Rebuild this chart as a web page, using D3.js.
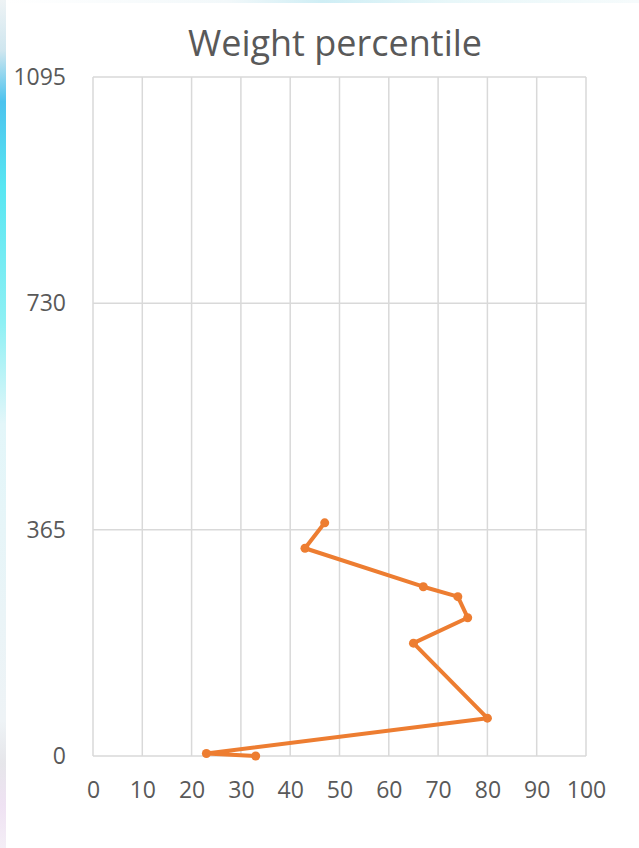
<!DOCTYPE html>
<html>
<head>
<meta charset="utf-8">
<script src="https://cdn.jsdelivr.net/npm/d3@7"></script>
<style>
  body { margin: 0; background: #fff; }
  svg { display: block; }
</style>
</head>
<body>
<svg id="chart" width="639" height="848"></svg>
<script>
// Data: age in days vs weight percentile
const percentile = [33, 23, 80, 65, 76, 74, 67, 43, 47];
const days = [0, 4, 61, 182, 223, 257, 273, 335, 376];
const xTicks = [0, 10, 20, 30, 40, 50, 60, 70, 80, 90, 100];
const yTicks = [0, 365, 730, 1095];

const margin = { top: 77, right: 53, bottom: 92, left: 93 },
    width = 639 - margin.left - margin.right,
    height = 848 - margin.top - margin.bottom;

const svg = d3.select("#chart");

// decorative edge strip on the left, like the slide background
const defs = svg.append("defs");
const grad = defs.append("linearGradient")
    .attr("id", "edge").attr("x1", 0).attr("y1", 0).attr("x2", 0).attr("y2", 1);
[[0, "#eef3f5"], [0.06, "#cfe6ef"], [0.12, "#4cc3ee"], [0.22, "#58e6f2"],
 [0.38, "#8ef0f4"], [0.5, "#e3f6f9"], [0.85, "#eef3f6"], [0.9, "#e6e6ea"], [0.95, "#efe2f3"], [1, "#f4eef6"]]
    .forEach(([o, c]) => grad.append("stop").attr("offset", o).attr("stop-color", c));
svg.append("rect").attr("x", 0).attr("y", 0).attr("width", 6).attr("height", 848)
    .attr("fill", "url(#edge)");

const topGrad = defs.append("linearGradient")
    .attr("id", "topedge").attr("x1", 0).attr("y1", 0).attr("x2", 1).attr("y2", 0);
[[0, "#ffffff"], [0.35, "#f2f8fa"], [0.5, "#cfeef5"], [0.7, "#e8f7f9"], [1, "#f6fbfc"]]
    .forEach(([o, c]) => topGrad.append("stop").attr("offset", o).attr("stop-color", c));
svg.append("rect").attr("x", 6).attr("y", 0).attr("width", 633).attr("height", 3)
    .attr("fill", "url(#topedge)");

const g = svg.append("g")
    .attr("transform", `translate(${margin.left},${margin.top})`);

const x = d3.scaleLinear().domain([0, 100]).range([0, width]);
const y = d3.scaleLinear().domain([0, 1095]).range([height, 0]);

// gridlines
g.append("g")
    .selectAll("line.v")
    .data(xTicks)
    .enter().append("line")
    .attr("x1", d => x(d)).attr("x2", d => x(d))
    .attr("y1", 0).attr("y2", height)
    .attr("stroke", "#d9d9d9").attr("stroke-width", 1.5);

g.append("g")
    .selectAll("line.h")
    .data(yTicks)
    .enter().append("line")
    .attr("x1", 0).attr("x2", width)
    .attr("y1", d => y(d)).attr("y2", d => y(d))
    .attr("stroke", "#d9d9d9").attr("stroke-width", 1.5);

// axes (labels only)
const xAxis = g.append("g")
    .attr("transform", `translate(0,${height})`)
    .call(d3.axisBottom(x).tickValues(xTicks).tickFormat(d3.format("d")).tickSize(0).tickPadding(26));
const yAxis = g.append("g")
    .call(d3.axisLeft(y).tickValues(yTicks).tickFormat(d3.format("d")).tickSize(0).tickPadding(27));

[xAxis, yAxis].forEach(a => {
    a.select(".domain").remove();
    a.selectAll("text")
        .attr("fill", "#595959")
        .style("font-family", "'Open Sans', sans-serif")
        .style("font-size", "23px");
});

// the line
const line = d3.line()
    .x((d, i) => x(percentile[i]))
    .y(d => y(d));

g.append("path")
    .datum(days)
    .attr("d", line)
    .attr("fill", "none")
    .attr("stroke", "#ed7d31")
    .attr("stroke-width", 4)
    .attr("stroke-linejoin", "round");

g.selectAll("circle")
    .data(days)
    .enter().append("circle")
    .attr("cx", (d, i) => x(percentile[i]))
    .attr("cy", d => y(d))
    .attr("r", 4.5)
    .attr("fill", "#ed7d31");

// title
svg.append("text")
    .attr("x", 335)
    .attr("y", 56)
    .attr("text-anchor", "middle")
    .attr("fill", "#595959")
    .style("font-family", "'Open Sans', sans-serif")
    .style("font-size", "36px")
    .text("Weight percentile");
</script>
</body>
</html>
